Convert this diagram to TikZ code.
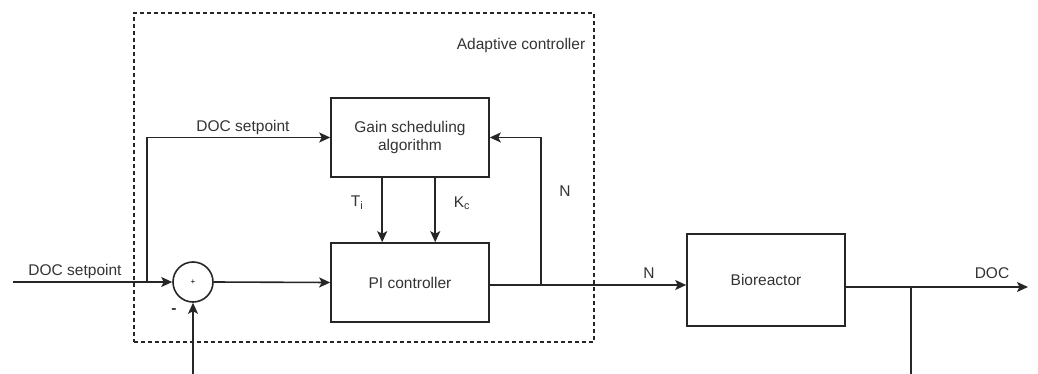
\documentclass[tikz,border=0pt]{standalone}
\usepackage{fontspec}
\setmainfont{Liberation Sans}
\usetikzlibrary{arrows.meta,calc}
\newcommand\dfont{\fontsize{15.5}{18.5}\selectfont}
\begin{document}
\begin{tikzpicture}[x=1pt,y=-1pt,line width=1.6pt,
  lc/.style={draw=black!85},
  blk/.style={draw=black!85,rectangle,minimum width=158pt,minimum height=79pt,inner sep=0pt,font=\dfont,text=black!80,align=center},
  lbl/.style={font=\dfont,text=black!80,inner sep=0pt},
  arr/.style={draw=black!85,-{Stealth[length=11pt,width=10pt,inset=2.5pt]}}]
\useasboundingbox (0,0) rectangle (1038,374);
% dashed container
\node[draw=black!85,dashed,dash pattern=on 4pt off 3pt,line width=1.4pt,minimum width=460pt,minimum height=329pt,inner sep=0pt] (ac) at (364,177.5) {};
\node[lbl,anchor=east] (aclbl) at (586,45) {Adaptive controller};
% blocks
\node[blk] (gain) at (410,137.5) {Gain scheduling\\algorithm};
\node[blk] (pi) at (410,282.5) {PI controller};
\node[blk,minimum height=92pt] (bio) at (766,280) {Bioreactor};
\node[draw=black!85,circle,minimum size=40pt,inner sep=0pt] (sum) at (193,282) {\fontsize{8}{8}\selectfont +};
% coordinates
\coordinate (in) at (13,282);
\coordinate (br1) at (147,282);
\coordinate (br2) at (541,285);
\coordinate (out) at (1028,287);
\coordinate (br3) at (911,287);
\coordinate (fbend) at (911,374);
\coordinate (fbstart) at (193,374);
\coordinate (ti) at ($(gain.south west)+(52,0)$);
\coordinate (kc) at ($(gain.south west)+(105,0)$);
% connectors
\draw[arr] (in) -- (sum.west);
\draw[arr] (br1) |- (gain.west);
\draw[arr] (sum.east) -- (pi.west);
\draw[arr] (pi.east |- br2) -- (bio.west |- br2);
\draw[arr] (br2) |- (gain.east);
\draw[arr] (ti) -- (ti |- pi.north);
\draw[arr] (kc) -- (kc |- pi.north);
\draw[arr] (bio.east |- out) -- (out);
\draw[lc] (br3) -- (fbend);
\draw[arr] (fbstart) -- (sum.south);
% labels
\node[lbl] (l1) at (75,271) {DOC setpoint};
\node[lbl] (l2) at (243,127) {DOC setpoint};
\node[lbl] (l3) at (357,203) {T\textsubscript{i}};
\node[lbl] (l4) at (462,203) {K\textsubscript{c}};
\node[lbl] (l5) at (565,191) {N};
\node[lbl] (l6) at (649,273) {N};
\node[lbl] (l7) at (992,273) {DOC};
\node[lbl] (l8) at (174,311) {\textbf{-}};
\end{tikzpicture}
\end{document}
